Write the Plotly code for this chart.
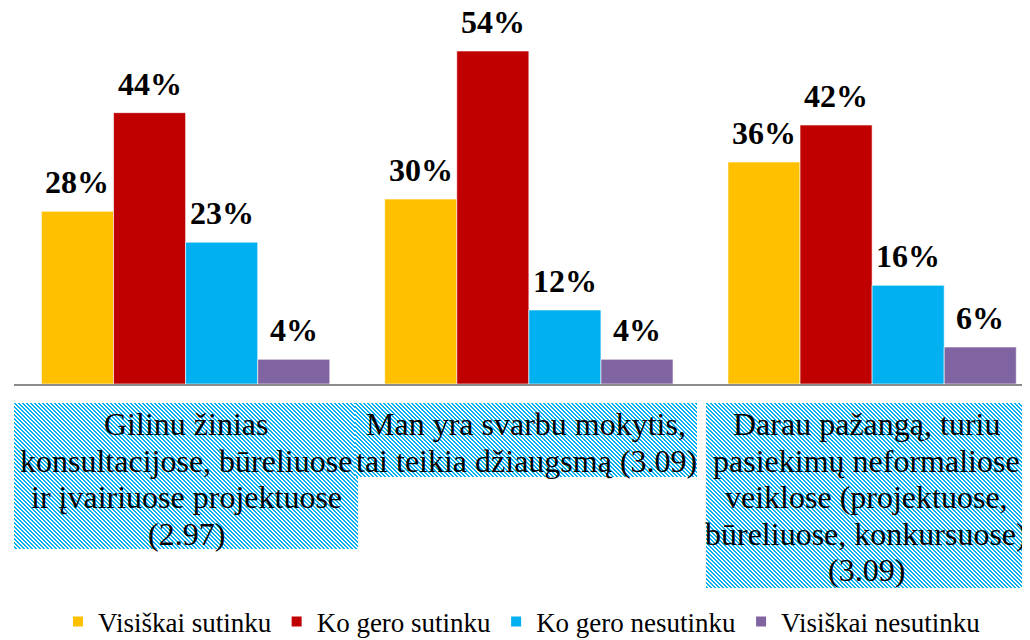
import base64
import plotly.graph_objects as go

categories = [
    "Gilinu žinias konsultacijose, būreliuose ir įvairiuose projektuose (2.97)",
    "Man yra svarbu mokytis, tai teikia džiaugsmą (3.09)",
    "Darau pažangą, turiu pasiekimų neformaliose veiklose (projektuose, būreliuose, konkursuose) (3.09)",
]
category_lines = [
    ["Gilinu žinias", "konsultacijose, būreliuose", "ir įvairiuose projektuose", "(2.97)"],
    ["Man yra svarbu mokytis,", "tai teikia džiaugsmą (3.09)"],
    ["Darau pažangą, turiu", "pasiekimų neformaliose", "veiklose (projektuose,", "būreliuose, konkursuose)", "(3.09)"],
]
series_names = ["Visiškai sutinku", "Ko gero sutinku", "Ko gero nesutinku", "Visiškai nesutinku"]
visiskai_sutinku = [28, 30, 36]
ko_gero_sutinku = [44, 54, 42]
ko_gero_nesutinku = [23, 12, 16]
visiskai_nesutinku = [4, 4, 6]
series_values = [visiskai_sutinku, ko_gero_sutinku, ko_gero_nesutinku, visiskai_nesutinku]
colors = ["#FFC000", "#C00000", "#00B0F0", "#8064A2"]

# page body has an 8px margin: figure coords = page coords - 8
OFF = 8
W, H = 1030 - OFF, 640 - OFF
ML, MT = 14 - OFF, 14 - OFF
PW, PH = W - ML, 370
YMAX = 60
XR = [-0.5, 2.46]
cat_px = PW / (XR[1] - XR[0])
BARGAP = 0.16
bar_px = cat_px * (1 - BARGAP) / 4

SERIF = "Liberation Serif, Times New Roman, serif"


def px_x(p):  # page px -> paper x
    return (p - OFF - ML) / PW


def px_y(p):  # page px -> paper y
    return (MT + PH - (p - OFF)) / PH


fig = go.Figure()
for name, vals, col in zip(series_names, series_values, colors):
    fig.add_trace(go.Bar(
        x=categories, y=vals, name=name,
        marker=dict(color=col, line=dict(color="white", width=0.6)),
        hoverinfo="skip",
    ))

annotations = []
for i, (vals, col) in enumerate(zip(series_values, colors)):
    off = (i - 1.5) * bar_px
    for c, v in zip(categories, vals):
        annotations.append(dict(
            x=c, y=v, xref="x", yref="y", text=f"{v}%", showarrow=False,
            xshift=off, yshift=29, yanchor="middle", xanchor="center",
            font=dict(family=SERIF, size=32, color="black", weight="bold"),
        ))

# patterned label boxes (page pixel coords: x0, y0, x1, y1)
boxes = [(14, 403, 358, 549), (355, 403, 697, 477), (706, 403, 1030, 588)]
text_cx = [186, 526, 866]


def pattern_svg(w, h):
    svg = (
        f'<svg xmlns="http://www.w3.org/2000/svg" width="{w}" height="{h}" viewBox="0 0 {w} {h}" shape-rendering="crispEdges">'
        '<defs><pattern id="p" width="4" height="4" patternUnits="userSpaceOnUse">'
        '<rect width="4" height="4" fill="white"/>'
        '<rect x="0" y="0" width="2" height="1" fill="#00B0F0"/>'
        '<rect x="1" y="1" width="2" height="1" fill="#00B0F0"/>'
        '<rect x="2" y="2" width="2" height="1" fill="#00B0F0"/>'
        '<rect x="3" y="3" width="1" height="1" fill="#00B0F0"/>'
        '<rect x="0" y="3" width="1" height="1" fill="#00B0F0"/>'
        '</pattern></defs>'
        f'<rect width="{w}" height="{h}" fill="url(#p)"/></svg>'
    )
    return "data:image/svg+xml;base64," + base64.b64encode(svg.encode()).decode()


images = []
LINE0, LSTEP = 424, 36.5
for (x0, y0, x1, y1), cx, lines in zip(boxes, text_cx, category_lines):
    w, h = x1 - x0, y1 - y0
    images.append(dict(
        source=pattern_svg(w, h), xref="paper", yref="paper",
        x=px_x(x0), y=px_y(y0),
        sizex=w / PW, sizey=h / PH, xanchor="left", yanchor="top",
        sizing="stretch", layer="below",
    ))
    for k, line in enumerate(lines):
        annotations.append(dict(
            x=px_x(cx), y=px_y(LINE0 + k * LSTEP),
            xref="paper", yref="paper", text=line, showarrow=False,
            xanchor="center", yanchor="middle", align="center",
            font=dict(family=SERIF, size=32, color="black"),
        ))

fig.update_layout(
    width=W, height=H,
    margin=dict(l=ML, r=0, t=MT, b=H - MT - PH, autoexpand=False),
    paper_bgcolor="white", plot_bgcolor="white",
    barmode="group", bargap=BARGAP, bargroupgap=0,
    xaxis=dict(range=XR, showticklabels=False, showgrid=False, zeroline=False,
               showline=True, linecolor="#8C8C8C", linewidth=2, ticks=""),
    yaxis=dict(range=[0, YMAX], visible=False),
    showlegend=True,
    legend=dict(orientation="h", x=px_x(522), xanchor="center", y=px_y(622),
                yanchor="middle", font=dict(family=SERIF, size=27, color="black"),
                itemwidth=30, tracegroupgap=0, itemsizing="constant"),
    annotations=annotations,
    images=images,
)

fig.write_html("out.html")
